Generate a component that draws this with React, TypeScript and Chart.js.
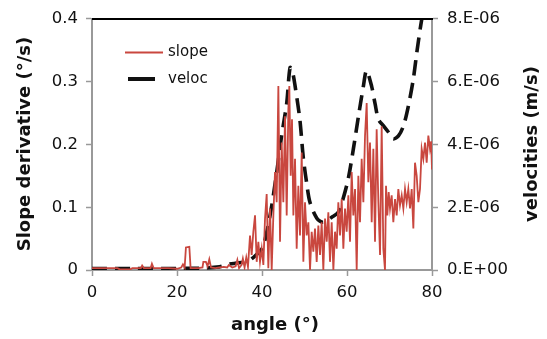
import React, { useEffect, useRef } from "react";
import { Chart, registerables } from "chart.js";

Chart.register(...registerables);

// slope derivative (°/s) vs angle (°)
const slopeAngles = [
  0, 2, 4, 6, 6.5, 9, 9.5, 11.5, 11.8, 12.2, 13.8, 14.1, 14.5, 18, 20, 21, 21.4, 21.8, 22.1, 22.9,
  23.2, 25, 26, 26.2, 26.8, 27.2, 27.6, 28, 29, 30, 31, 31.8, 32.2, 33, 33.8, 34.2, 34.6, 35.2, 35.5, 35.9,
  36.3, 36.7, 37.18, 37.57, 37.96, 38.36, 38.75, 39.14, 39.53, 39.93, 40.32, 40.71, 41.1, 41.49, 41.89, 42.28, 42.67, 43.06, 43.45, 43.85,
  44.24, 44.63, 45.02, 45.42, 45.81, 46.2, 46.43, 46.75, 47.06, 47.38, 47.77, 48.16, 48.55, 48.94, 49.34, 49.73, 50.12, 50.51, 50.91, 51.3,
  51.69, 52.08, 52.47, 52.87, 53.26, 53.65, 54.04, 54.43, 54.83, 55.22, 55.61, 56.0, 56.4, 56.79, 57.18, 57.57, 57.96, 58.36, 58.75, 59.14,
  59.53, 59.92, 60.32, 60.71, 61.1, 61.49, 61.89, 62.28, 62.67, 63.06, 63.45, 63.85, 64.24, 64.63, 65.02, 65.41, 65.81, 66.2, 66.59, 66.98,
  67.38, 67.77, 68.16, 68.55, 68.94, 69.18, 69.49, 69.81, 70.12, 70.51, 70.9, 71.3, 71.69, 72.08, 72.47, 72.87, 73.26, 73.65, 74.04, 74.43,
  74.83, 75.22, 75.61, 76.0, 76.4, 76.79, 77.18, 77.57, 77.96, 78.36, 78.75, 79.14, 79.53, 79.8, 80,
];
const slopeValues = [
  0.003, 0.003, 0.003, 0.003, 0.001, 0.001, 0.003, 0.003, 0.007, 0.003, 0.003, 0.01, 0.003, 0.003, 0.002, 0.004, 0.009, 0.004, 0.036, 0.037,
  0.003, 0.003, 0.004, 0.013, 0.013, 0.006, 0.017, 0.004, 0.003, 0.004, 0.005, 0.004, 0.008, 0.004, 0.006, 0.016, 0.003, 0.008, 0.018, 0.004,
  0.02, 0.005, 0.055, 0.024, 0.061, 0.087, 0.013, 0.045, 0.013, 0.034, 0.008, 0.082, 0.121, 0.003, 0.098, 0.0, 0.087, 0.156, 0.108, 0.293,
  0.045, 0.203, 0.108, 0.245, 0.087, 0.256, 0.293, 0.15, 0.24, 0.087, 0.177, 0.034, 0.134, 0.055, 0.187, 0.013, 0.108, 0.055, 0.076, 0.0,
  0.061, 0.029, 0.066, 0.013, 0.071, 0.024, 0.076, 0.0, 0.082, 0.045, 0.092, 0.013, 0.076, 0.0, 0.061, 0.034, 0.108, 0.055, 0.113, 0.034,
  0.098, 0.061, 0.119, 0.045, 0.156, 0.087, 0.129, 0.0, 0.15, 0.076, 0.177, 0.108, 0.214, 0.266, 0.14, 0.203, 0.076, 0.193, 0.045, 0.224,
  0.108, 0.024, 0.229, 0.034, 0.0, 0.134, 0.087, 0.124, 0.098, 0.119, 0.076, 0.113, 0.087, 0.129, 0.103, 0.119, 0.098, 0.129, 0.108, 0.129,
  0.098, 0.129, 0.066, 0.171, 0.15, 0.108, 0.129, 0.193, 0.177, 0.203, 0.171, 0.214, 0.193, 0.205, 0.16,
];

// velocities (m/s) vs angle (°)
const velocAngles = [
  0, 10, 20, 26, 30, 32, 34, 35.6, 37.2, 39.5, 40.3, 41.9, 43.45, 44.6, 45.8, 46.6, 47.2, 47.8, 48.9, 49.7,
  50.5, 51.3, 52.9, 54.4, 56.4, 57.96, 59.1, 60.3, 61.5, 62.7, 63.85, 64.6, 65.8, 66.6, 67.4, 68.55, 70.1, 70.9, 72.1, 73.3,
  74.4, 75.6, 76.5, 77.6, 78.5,
];
const velocValues = [
  0.05e-6, 0.05e-6, 0.05e-6, 0.06e-6, 0.1e-6, 0.18e-6, 0.22e-6, 0.25e-6, 0.32e-6, 0.6e-6, 0.75e-6, 1.74e-6, 3.1e-6, 4.27e-6, 5.3e-6, 6.45e-6, 6.3e-6, 5.85e-6, 4.8e-6, 3.6e-6,
  2.78e-6, 2.15e-6, 1.65e-6, 1.52e-6, 1.68e-6, 1.84e-6, 2.28e-6, 2.91e-6, 3.86e-6, 4.9e-6, 5.85e-6, 6.35e-6, 5.85e-6, 5.3e-6, 4.8e-6, 4.6e-6, 4.33e-6, 4.18e-6, 4.27e-6, 4.6e-6,
  5.2e-6, 6.08e-6, 7.0e-6, 8.0e-6, 8.6e-6,
];

const xTitle = "angle (°)";
const yTitle = "Slope derivative (°/s)";
const y1Title = "velocities (m/s)";

const FONT = "'DejaVu Sans', sans-serif";

const overlayPlugin = {
  id: "overlay",
  afterDraw(chart: any) {
    const { ctx, chartArea } = chart;
    ctx.save();
    // top border
    ctx.strokeStyle = "#000";
    ctx.lineWidth = 2;
    ctx.beginPath();
    ctx.moveTo(chartArea.left, chartArea.top);
    ctx.lineTo(chartArea.right + 1, chartArea.top);
    ctx.stroke();

    // axis titles
    ctx.fillStyle = "#111";
    ctx.font = `bold 18px ${FONT}`;
    ctx.textAlign = "center";
    ctx.textBaseline = "middle";
    ctx.fillText(xTitle, 275, 325);
    ctx.save();
    ctx.translate(25, 144);
    ctx.rotate(-Math.PI / 2);
    ctx.fillText(yTitle, 0, 0);
    ctx.restore();
    ctx.save();
    ctx.translate(532, 144);
    ctx.rotate(-Math.PI / 2);
    ctx.fillText(y1Title, 0, 0);
    ctx.restore();

    // legend
    const items = chart.data.datasets;
    const rows = [
      { y: 52.5, x0: 125, x1: 163 },
      { y: 79, x0: 128, x1: 155 },
    ];
    ctx.font = `15px ${FONT}`;
    ctx.textAlign = "left";
    items.forEach((ds: any, i: number) => {
      const r = rows[i];
      ctx.strokeStyle = ds.borderColor;
      ctx.lineWidth = i === 0 ? 2 : 4;
      ctx.setLineDash([]);
      ctx.beginPath();
      ctx.moveTo(r.x0, r.y);
      ctx.lineTo(r.x1, r.y);
      ctx.stroke();
      ctx.fillStyle = "#111";
      ctx.fillText(ds.label, 168, r.y);
    });
    ctx.restore();
  },
};

export default function App() {
  const ref = useRef<HTMLCanvasElement | null>(null);
  useEffect(() => {
    if (!ref.current) return;
    const chart = new Chart(ref.current, {
      type: "line",
      data: {
        datasets: [
          {
            label: "slope",
            data: slopeAngles.map((x, i) => ({ x, y: slopeValues[i] })),
            borderColor: "#c9473f",
            borderWidth: 1.8,
            pointRadius: 0,
            tension: 0,
            yAxisID: "y",
          },
          {
            label: "veloc",
            data: velocAngles.map((x, i) => ({ x, y: velocValues[i] })),
            borderColor: "#111",
            borderWidth: 3.6,
            borderDash: [15, 8],
            pointRadius: 0,
            tension: 0.3,
            yAxisID: "y1",
          },
        ],
      },
      options: {
        responsive: false,
        animation: false,
        layout: { padding: { top: 17, left: 0, right: 0, bottom: 0 } },
        plugins: { legend: { display: false }, tooltip: { enabled: false }, title: { display: false } },
        scales: {
          x: {
            type: "linear",
            min: 0,
            max: 80,
            afterFit: (s: any) => { s.height = 69; },
            ticks: { stepSize: 20, color: "#111", font: { family: FONT, size: 16.5 }, padding: 7 },
            grid: { drawOnChartArea: false, drawTicks: true, tickLength: 6, color: "#999", tickColor: "#999", tickWidth: 1.5 },
            border: { color: "#999", width: 2 },
          },
          y: {
            position: "left",
            min: 0,
            max: 0.4,
            afterFit: (s: any) => { s.width = 92; },
            ticks: { stepSize: 0.1, color: "#111", font: { family: FONT, size: 16.5 }, padding: 8 },
            grid: { drawOnChartArea: false, drawTicks: true, tickLength: 6, color: "#999", tickColor: "#999", tickWidth: 1.5 },
            border: { color: "#999", width: 2 },
          },
          y1: {
            position: "right",
            min: 0,
            max: 8e-6,
            afterFit: (s: any) => { s.width = 115; },
            ticks: {
              stepSize: 2e-6,
              color: "#111",
              font: { family: FONT, size: 16.5 },
              padding: 9,
              callback: (v: any) => {
                const n = Math.round(Number(v) / 1e-6);
                return n === 0 ? "0.E+00" : `${n}.E-06`;
              },
            },
            grid: { drawOnChartArea: false, drawTicks: true, tickLength: 6, color: "#999", tickColor: "#999", tickWidth: 1.5 },
            border: { color: "#999", width: 2 },
          },
        },
      },
      plugins: [overlayPlugin],
    } as any);
    return () => chart.destroy();
  }, []);
  return (
    <div style={{ position: "fixed", left: 0, top: 0, width: 547, height: 339, background: "#fff" }}>
      <canvas ref={ref} width={547} height={339} style={{ display: "block" }} />
    </div>
  );
}
